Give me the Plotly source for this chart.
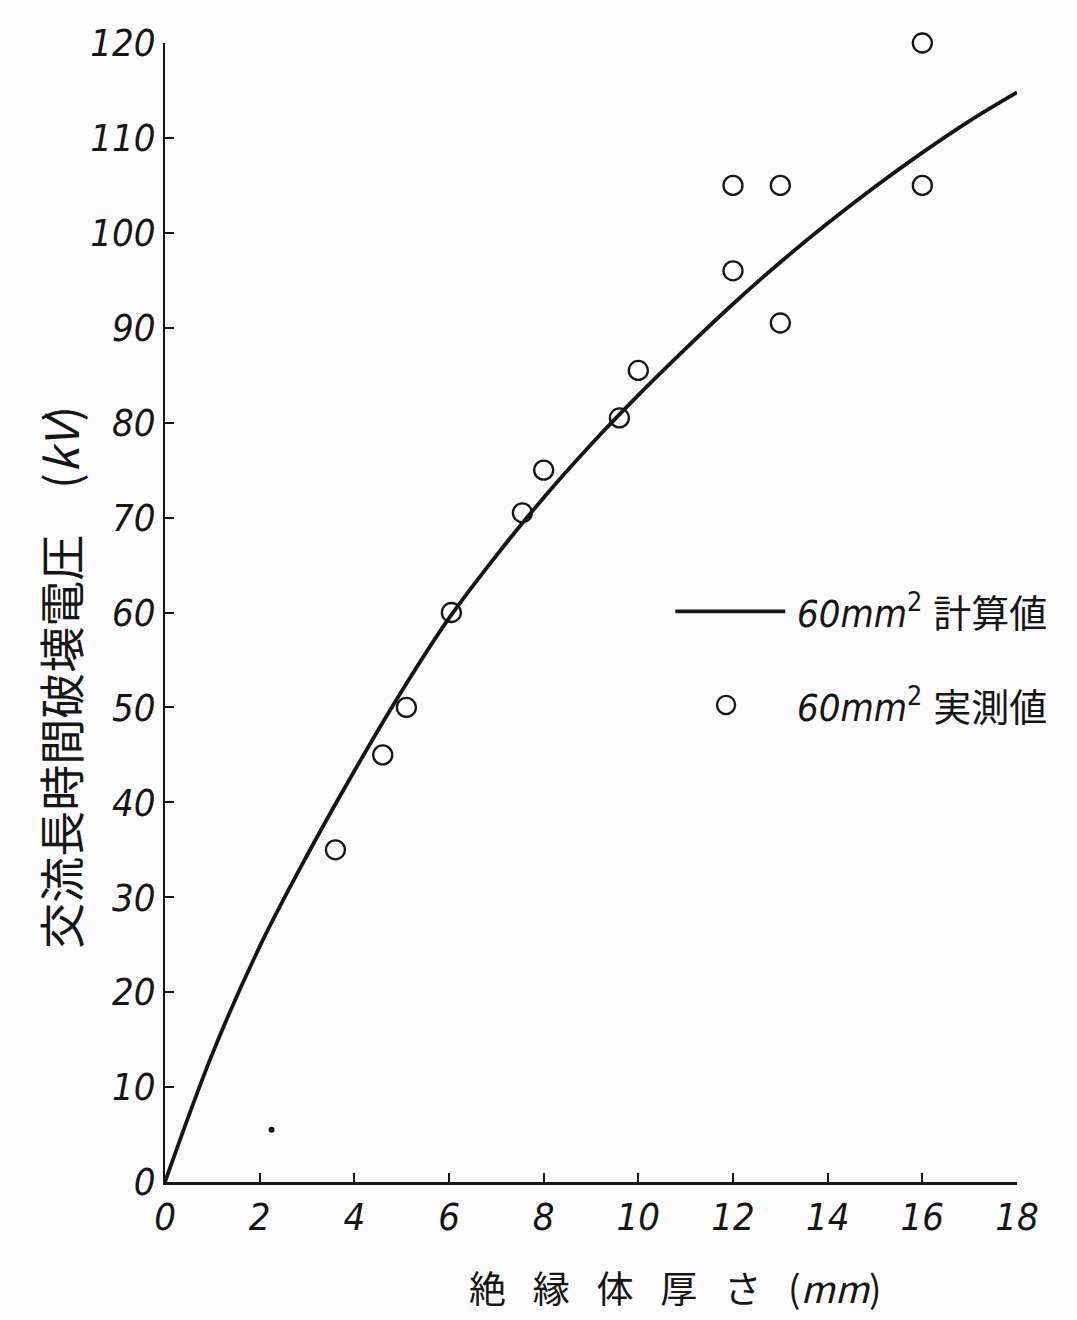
import plotly.graph_objects as go

# Calculated curve (60mm2 計算値)
curve_x = [0, 1, 2, 3, 4, 5, 6, 7, 8, 9, 10, 11, 12, 13, 14, 15, 16, 17, 18]
curve_y = [0, 13.5, 24.8, 34.4, 43.3, 51.7, 59.4, 66.0, 72.1, 77.7, 82.9, 87.8, 92.5, 96.9, 101.0, 104.85, 108.45, 111.8, 114.8]

# Measured values (60mm2 実測値)
meas_x = [3.6, 4.6, 5.1, 6.05, 7.55, 8.0, 9.6, 10.0, 12.0, 12.0, 13.0, 13.0, 16.0, 16.0]
meas_y = [35, 45, 50, 60, 70.5, 75, 80.5, 85.5, 96, 105, 105, 90.5, 120, 105]

# small speck in the original print
speck_x = [2.25]
speck_y = [5.5]

x_ticks = [0, 2, 4, 6, 8, 10, 12, 14, 16, 18]
y_ticks = [0, 10, 20, 30, 40, 50, 60, 70, 80, 90, 100, 110, 120]

NUM_FONT = "Liberation Sans Narrow, DejaVu Sans Condensed, Noto Sans CJK JP, sans-serif"
CJK_FONT = "Noto Sans CJK JP, sans-serif"
INK = "#161616"

fig = go.Figure()
fig.add_trace(go.Scatter(x=curve_x, y=curve_y, mode="lines",
                         line=dict(color=INK, width=3.8, shape="spline", smoothing=1.0),
                         cliponaxis=False, showlegend=False))
fig.add_trace(go.Scatter(x=meas_x, y=meas_y, mode="markers",
                         marker=dict(symbol="circle-open", size=19, color=INK, line=dict(width=2.3, color=INK)),
                         cliponaxis=False, showlegend=False))
fig.add_trace(go.Scatter(x=speck_x, y=speck_y, mode="markers", marker=dict(size=6, color=INK),
                         cliponaxis=False, showlegend=False))

axis_common = dict(showgrid=False, zeroline=False, showline=True, linecolor=INK,
                   ticks="inside", tickcolor=INK, ticklen=9, tickwidth=2,
                   tickfont=dict(family=NUM_FONT, size=38, color=INK, style="italic"))

fig.update_xaxes(range=[0, 18], tickvals=x_ticks, ticktext=[str(v) for v in x_ticks], linewidth=2.5, **axis_common)
fig.update_yaxes(range=[0, 120], tickvals=y_ticks, ticktext=[str(v) for v in y_ticks], linewidth=2, **axis_common)

SP = "\u2002 "
# Axis titles
fig.add_annotation(xref="paper", yref="paper", x=0.599, y=-0.118, showarrow=False,
                   text=SP.join("絶縁体厚さ") + SP + "(<i>mm</i>)",
                   font=dict(family=CJK_FONT, size=37, color=INK))
fig.add_annotation(xref="paper", yref="paper", x=-0.165, y=0.443, showarrow=False, textangle=-90,
                   text="交流長時間破壊電圧\u3000(<i>kV</i>)", font=dict(family=CJK_FONT, size=46, color=INK))

# Manual legend
fig.add_shape(type="line", xref="paper", yref="paper", x0=0.599, x1=0.728, y0=0.501, y1=0.501,
              line=dict(color=INK, width=3.8))
fig.add_shape(type="circle", xref="paper", yref="paper", x0=0.6585 - 0.0106, x1=0.6585 + 0.0106,
              y0=0.4188 - 0.0080, y1=0.4188 + 0.0080, line=dict(color=INK, width=2.3))
fig.add_annotation(xref="paper", yref="paper", x=0.739, y=0.501, xanchor="left", showarrow=False,
                   text="<i>60mm</i><sup>2</sup> 計算値", font=dict(family=NUM_FONT, size=38, color=INK))
fig.add_annotation(xref="paper", yref="paper", x=0.739, y=0.4188, xanchor="left", showarrow=False,
                   text="<i>60mm</i><sup>2</sup> 実測値", font=dict(family=NUM_FONT, size=38, color=INK))

fig.update_layout(width=1077, height=1320, margin=dict(l=165, r=60, t=43, b=138),
                  paper_bgcolor="#fbfbfb", plot_bgcolor="#fbfbfb", showlegend=False)

fig.write_html("out.html")
